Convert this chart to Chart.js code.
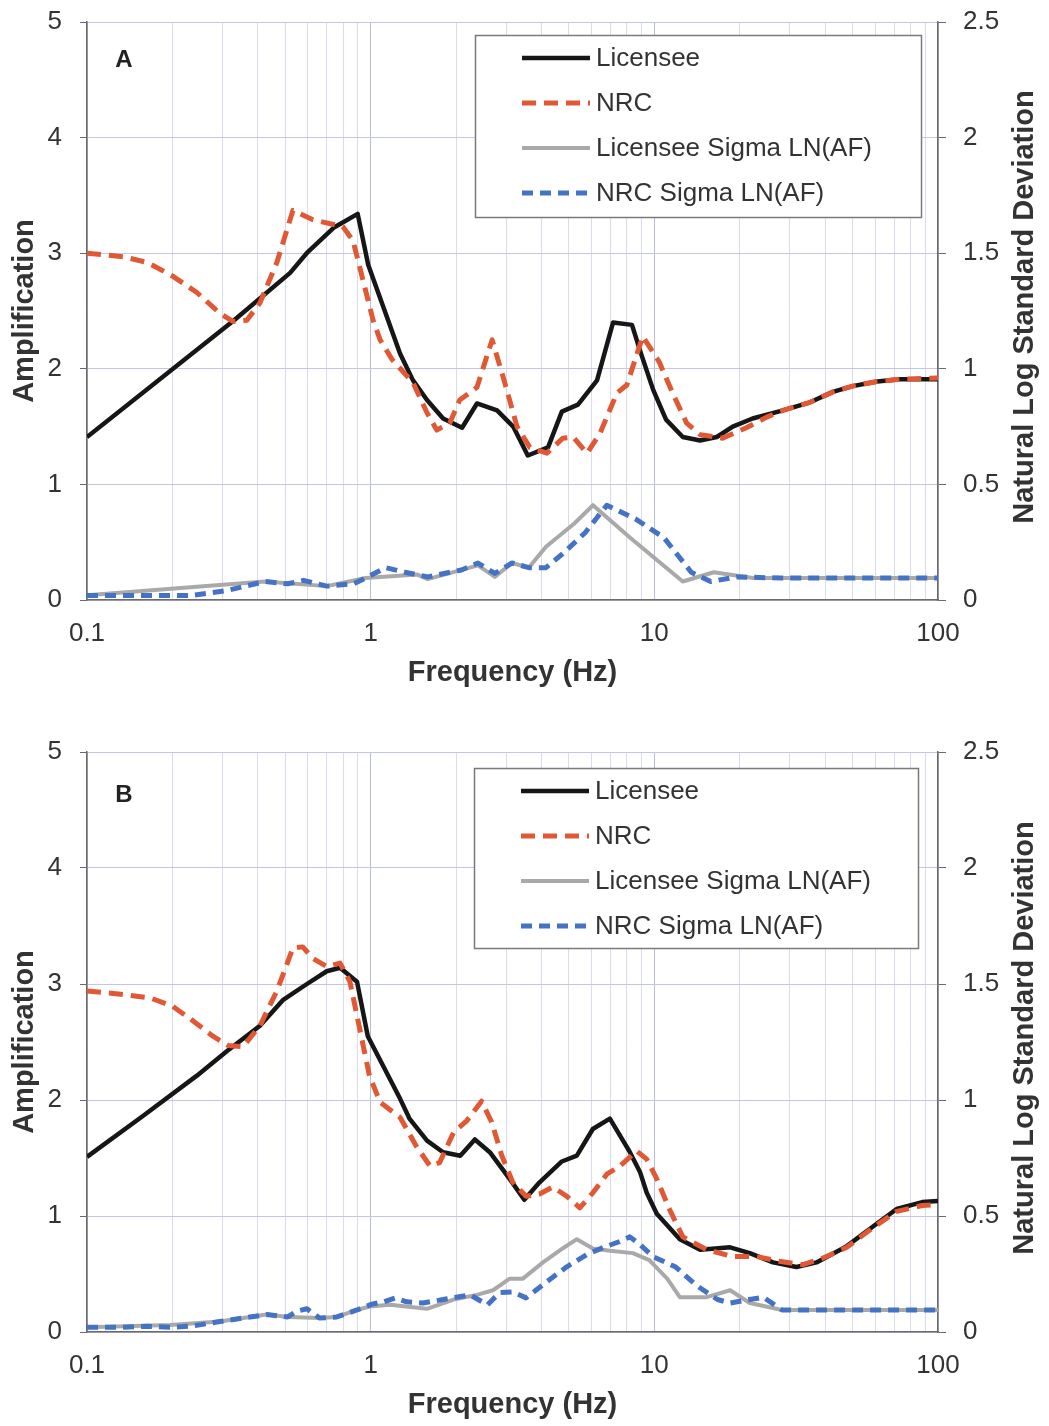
<!DOCTYPE html>
<html>
<head>
<meta charset="utf-8">
<title>Amplification vs Frequency</title>
<script src="https://cdn.jsdelivr.net/npm/chart.js@4/dist/chart.umd.min.js"></script>
<style>
    html, body { margin: 0; padding: 0; background: #fff; overflow: hidden; }
    .panel { position: absolute; left: 0; }
    #panel-a { top: 0; }
    #panel-b { top: 730px; }
</style>
</head>
<body>
<div class="panel" id="panel-a"><canvas id="chart-a" width="1049" height="712"></canvas></div>
<div class="panel" id="panel-b"><canvas id="chart-b" width="1049" height="696"></canvas></div>
<script>
// ---- Data ----
const seriesNames = ['Licensee', 'NRC', 'Licensee Sigma LN(AF)', 'NRC Sigma LN(AF)'];
const decadeTicks = [0.1, 1, 10, 100];

// Panel A
const licenseeA_f = [0.1, 0.33, 0.52, 0.6, 0.74, 0.9, 0.98, 1.27, 1.41, 1.58, 1.8, 2.1, 2.37, 2.79, 3.18, 3.58, 4.22, 4.72, 5.38, 6.28, 7.15, 8.34, 8.9, 9.9, 11.0, 12.6, 14.5, 16.6, 18.9, 22.2, 28.4, 35.4, 42.6, 50, 61, 73.5, 100];
const licenseeA_amp = [1.41, 2.42, 2.83, 3.01, 3.22, 3.34, 2.90, 2.13, 1.90, 1.73, 1.57, 1.49, 1.70, 1.64, 1.50, 1.25, 1.32, 1.63, 1.69, 1.90, 2.40, 2.38, 2.16, 1.82, 1.56, 1.41, 1.38, 1.41, 1.50, 1.57, 1.64, 1.71, 1.80, 1.85, 1.89, 1.91, 1.91];

const nrcA_f = [0.1, 0.134, 0.163, 0.201, 0.244, 0.294, 0.327, 0.366, 0.407, 0.467, 0.532, 0.626, 0.798, 0.866, 0.939, 1.02, 1.08, 1.19, 1.41, 1.58, 1.71, 1.90, 2.06, 2.37, 2.68, 2.93, 3.28, 3.64, 4.18, 4.76, 5.17, 5.79, 6.43, 7.38, 8.0, 9.1, 10.4, 11.6, 13.0, 14.5, 17.4, 21.1, 24.8, 28.4, 35.4, 42.6, 50, 61, 73.5, 100];
const nrcA_amp = [3.00, 2.97, 2.92, 2.80, 2.66, 2.48, 2.41, 2.42, 2.57, 2.92, 3.37, 3.29, 3.23, 3.11, 2.77, 2.42, 2.25, 2.08, 1.88, 1.62, 1.47, 1.53, 1.73, 1.84, 2.25, 1.93, 1.50, 1.32, 1.27, 1.40, 1.41, 1.27, 1.44, 1.79, 1.86, 2.28, 2.06, 1.79, 1.53, 1.43, 1.40, 1.49, 1.58, 1.64, 1.71, 1.80, 1.85, 1.89, 1.91, 1.92];

const licSigmaA_f = [0.1, 0.424, 0.70, 0.96, 1.46, 1.59, 2.39, 2.74, 3.15, 3.61, 4.15, 5.21, 6.08, 8.2, 9.82, 12.6, 16.2, 22.3, 100];
const licSigmaA = [0.02, 0.08, 0.06, 0.095, 0.11, 0.09, 0.15, 0.10, 0.16, 0.14, 0.23, 0.33, 0.41, 0.27, 0.19, 0.08, 0.12, 0.095, 0.095];

const nrcSigmaA_f = [0.1, 0.234, 0.309, 0.424, 0.51, 0.58, 0.70, 0.87, 0.96, 1.13, 1.32, 1.59, 2.09, 2.39, 2.74, 3.15, 3.61, 4.15, 4.75, 5.69, 6.8, 8.6, 10.8, 13.5, 15.8, 19.5, 27.9, 100];
const nrcSigmaA = [0.02, 0.02, 0.04, 0.08, 0.07, 0.085, 0.06, 0.07, 0.095, 0.14, 0.12, 0.10, 0.13, 0.16, 0.115, 0.16, 0.14, 0.14, 0.20, 0.29, 0.41, 0.35, 0.27, 0.12, 0.08, 0.10, 0.095, 0.095];

// Panel B
const licenseeB_f = [0.1, 0.157, 0.244, 0.311, 0.407, 0.49, 0.596, 0.70, 0.78, 0.895, 0.977, 1.27, 1.37, 1.58, 1.80, 2.07, 2.33, 2.63, 3.09, 3.48, 3.94, 4.72, 5.33, 6.07, 6.97, 8.2, 8.9, 9.4, 10.2, 11.1, 12.3, 14.5, 18.5, 21.7, 26.2, 31.7, 37.3, 47.7, 59, 71.5, 88, 100];
const licenseeB_amp = [1.51, 1.86, 2.21, 2.42, 2.64, 2.86, 3.00, 3.11, 3.14, 3.02, 2.55, 2.01, 1.84, 1.65, 1.55, 1.52, 1.66, 1.55, 1.32, 1.14, 1.29, 1.47, 1.52, 1.75, 1.84, 1.55, 1.38, 1.20, 1.02, 0.92, 0.80, 0.71, 0.73, 0.68, 0.60, 0.56, 0.60, 0.74, 0.91, 1.06, 1.12, 1.13];

const nrcB_f = [0.1, 0.134, 0.167, 0.2, 0.231, 0.278, 0.314, 0.355, 0.407, 0.467, 0.532, 0.576, 0.626, 0.70, 0.78, 0.845, 0.91, 0.99, 1.08, 1.27, 1.45, 1.62, 1.75, 1.96, 2.18, 2.46, 2.67, 2.90, 3.17, 3.53, 3.94, 4.38, 4.92, 5.46, 6.07, 6.80, 7.55, 8.67, 9.4, 10.2, 11.3, 12.6, 15.3, 18.9, 23, 27.6, 33.4, 39.5, 47.7, 59, 71.5, 88, 100];
const nrcB_amp = [2.94, 2.91, 2.88, 2.81, 2.70, 2.55, 2.47, 2.46, 2.64, 2.94, 3.31, 3.32, 3.22, 3.15, 3.18, 3.02, 2.64, 2.21, 1.98, 1.85, 1.60, 1.43, 1.46, 1.72, 1.82, 1.99, 1.81, 1.52, 1.29, 1.17, 1.19, 1.25, 1.17, 1.07, 1.20, 1.36, 1.43, 1.56, 1.49, 1.32, 1.06, 0.82, 0.71, 0.65, 0.65, 0.61, 0.58, 0.64, 0.73, 0.90, 1.04, 1.09, 1.10];

const licSigmaB_f = [0.1, 0.196, 0.294, 0.43, 0.51, 0.66, 0.76, 0.895, 0.99, 1.17, 1.58, 1.96, 2.37, 2.70, 3.09, 3.44, 4.05, 4.75, 5.33, 6.07, 6.97, 8.4, 9.6, 11.1, 12.3, 15.3, 18.5, 21.7, 28.2, 100];
const licSigmaB = [0.02, 0.03, 0.045, 0.075, 0.065, 0.06, 0.065, 0.095, 0.11, 0.117, 0.10, 0.14, 0.16, 0.18, 0.23, 0.23, 0.30, 0.36, 0.40, 0.36, 0.35, 0.34, 0.31, 0.23, 0.15, 0.15, 0.18, 0.125, 0.095, 0.095];

const nrcSigmaB_f = [0.1, 0.131, 0.163, 0.196, 0.236, 0.294, 0.355, 0.43, 0.51, 0.55, 0.596, 0.66, 0.76, 0.895, 1.01, 1.11, 1.22, 1.34, 1.53, 1.86, 2.24, 2.58, 2.85, 3.17, 3.53, 4.17, 4.9, 5.76, 6.6, 7.55, 8.2, 8.9, 9.9, 11.9, 14.1, 16.7, 18.5, 24.2, 28.2, 100];
const nrcSigmaB = [0.02, 0.02, 0.025, 0.02, 0.026, 0.045, 0.06, 0.075, 0.065, 0.09, 0.10, 0.06, 0.065, 0.095, 0.12, 0.13, 0.147, 0.13, 0.125, 0.143, 0.16, 0.117, 0.17, 0.173, 0.147, 0.216, 0.28, 0.333, 0.364, 0.39, 0.41, 0.377, 0.325, 0.28, 0.20, 0.14, 0.125, 0.15, 0.095, 0.095];

// ---- Styling ----
const FONT = '"Liberation Sans", Arial, sans-serif';
const TEXT_COLOR = '#333333';
const AXIS_COLOR = '#6b6b6b';

function toPoints(xs, ys) {
    return xs.map((x, i) => ({ x: x, y: ys[i] }));
}

function isDecade(v) {
    const l = Math.log10(v);
    return Math.abs(l - Math.round(l)) < 1e-9;
}

// keep the plot area exactly where the layout padding puts it
function noLabelOverflow(scale) {
    scale.paddingTop = 0;
    scale.paddingBottom = 0;
    scale.paddingLeft = 0;
    scale.paddingRight = 0;
}

// Right axis title, panel letter and the boxed legend
const extrasPlugin = {
    id: 'extras',
    afterDatasetsDraw(chart, args, opts) {
        const ctx = chart.ctx;
        const area = chart.chartArea;
        ctx.save();

        // panel letter
        ctx.fillStyle = '#222';
        ctx.font = 'bold 24px ' + FONT;
        ctx.textAlign = 'center';
        ctx.textBaseline = 'middle';
        ctx.fillText(opts.letter, area.left + 37, area.top + opts.letterDy);

        // legend box
        const lg = opts.legend;
        ctx.fillStyle = '#fff';
        ctx.fillRect(lg.x, lg.y, lg.w, lg.h);
        ctx.strokeStyle = '#7a7a7a';
        ctx.lineWidth = 1.5;
        ctx.strokeRect(lg.x + 0.5, lg.y + 0.5, lg.w, lg.h);

        const legendOrder = [0, 1, 2, 3];
        legendOrder.forEach((idx, row) => {
            const ds = chart.data.datasets[idx];
            const y = lg.y + 23 + row * 45;
            ctx.beginPath();
            ctx.strokeStyle = ds.borderColor;
            ctx.lineWidth = ds.borderWidth;
            ctx.setLineDash(ds.borderDash || []);
            ctx.moveTo(lg.x + 47, y);
            ctx.lineTo(lg.x + 115, y);
            ctx.stroke();
            ctx.setLineDash([]);
            ctx.fillStyle = TEXT_COLOR;
            ctx.font = '26px ' + FONT;
            ctx.textAlign = 'left';
            ctx.textBaseline = 'middle';
            ctx.fillText(ds.label, lg.x + 121, y + 1);
        });
        ctx.restore();
    },
    afterDraw(chart) {
        // secondary axis title, reading bottom to top
        const ctx = chart.ctx;
        const area = chart.chartArea;
        ctx.save();
        ctx.translate(1025, (area.top + area.bottom) / 2 - 4);
        ctx.rotate(-Math.PI / 2);
        ctx.fillStyle = TEXT_COLOR;
        ctx.font = 'bold 29px ' + FONT;
        ctx.textAlign = 'center';
        ctx.textBaseline = 'middle';
        ctx.fillText('Natural Log Standard Deviation', 0, 0);
        ctx.restore();
    }
};

function buildChart(canvasId, letter, series, xAxisHeight, xTitlePad, letterDy, legend) {
    const ctx = document.getElementById(canvasId).getContext('2d');
    const datasets = [
        {
            label: seriesNames[0],
            data: toPoints(series.licF, series.licAmp),
            borderColor: '#161616',
            borderWidth: 4.5,
            yAxisID: 'y',
            order: 1
        },
        {
            label: seriesNames[1],
            data: toPoints(series.nrcF, series.nrcAmp),
            borderColor: '#e15934',
            borderWidth: 5,
            borderDash: [14, 8],
            yAxisID: 'y',
            order: 0
        },
        {
            label: seriesNames[2],
            data: toPoints(series.licSigF, series.licSig),
            borderColor: '#a9a9a9',
            borderWidth: 4,
            yAxisID: 'y2',
            order: 3
        },
        {
            label: seriesNames[3],
            data: toPoints(series.nrcSigF, series.nrcSig),
            borderColor: '#4473c5',
            borderWidth: 5,
            borderDash: [11, 7],
            yAxisID: 'y2',
            order: 2
        }
    ];
    datasets.forEach(ds => {
        ds.pointRadius = 0;
        ds.tension = 0;
        ds.fill = false;
        ds.borderJoinStyle = 'round';
    });

    return new Chart(ctx, {
        type: 'line',
        data: { datasets: datasets },
        plugins: [extrasPlugin],
        options: {
            responsive: false,
            animation: false,
            layout: { padding: { top: 22, left: 0, right: 0, bottom: 0 } },
            plugins: {
                legend: { display: false },
                tooltip: { enabled: false },
                extras: { letter: letter, letterDy: letterDy, legend: legend }
            },
            scales: {
                x: {
                    type: 'logarithmic',
                    min: 0.1,
                    max: 100,
                    afterBuildTicks(scale) {
                        const ticks = [];
                        for (let d = 0; d < decadeTicks.length - 1; d++) {
                            for (let k = 1; k <= 9; k++) {
                                ticks.push({ value: +(decadeTicks[d] * k).toPrecision(6) });
                            }
                        }
                        ticks.push({ value: decadeTicks[decadeTicks.length - 1] });
                        scale.ticks = ticks;
                    },
                    afterFit(scale) {
                        scale.height = xAxisHeight;
                        noLabelOverflow(scale);
                    },
                    ticks: {
                        autoSkip: false,
                        maxRotation: 0,
                        padding: 18,
                        color: TEXT_COLOR,
                        font: { family: FONT, size: 26 },
                        callback: (value) => isDecade(value) ? String(value) : ''
                    },
                    grid: {
                        drawTicks: false,
                        color: (c) => (c.tick && isDecade(c.tick.value)) ? '#b9bcd9' : '#dadcee',
                        lineWidth: 1
                    },
                    border: { color: AXIS_COLOR, width: 1.5 },
                    title: {
                        display: true,
                        text: 'Frequency (Hz)',
                        color: TEXT_COLOR,
                        font: { family: FONT, size: 29, weight: 'bold' },
                        padding: { top: 0, bottom: xTitlePad }
                    }
                },
                y: {
                    position: 'left',
                    min: 0,
                    max: 5,
                    afterFit(scale) {
                        scale.width = 87;
                        noLabelOverflow(scale);
                    },
                    ticks: {
                        stepSize: 1,
                        padding: 18,
                        color: TEXT_COLOR,
                        font: { family: FONT, size: 26 },
                        callback: (value) => String(value)
                    },
                    grid: { color: '#c4c7e4', tickColor: AXIS_COLOR, tickLength: 7, lineWidth: 1 },
                    border: { color: AXIS_COLOR, width: 1.5 },
                    title: {
                        display: true,
                        text: 'Amplification',
                        color: TEXT_COLOR,
                        font: { family: FONT, size: 29, weight: 'bold' },
                        padding: { top: 8, bottom: 0 }
                    }
                },
                y2: {
                    position: 'right',
                    min: 0,
                    max: 2.5,
                    afterFit(scale) {
                        scale.width = 111;
                        noLabelOverflow(scale);
                    },
                    ticks: {
                        stepSize: 0.5,
                        padding: 17,
                        color: TEXT_COLOR,
                        font: { family: FONT, size: 26 },
                        callback: (value) => String(value)
                    },
                    grid: { drawOnChartArea: false, tickColor: AXIS_COLOR, tickLength: 8 },
                    border: { color: AXIS_COLOR, width: 1.5 }
                }
            }
        }
    });
}

buildChart('chart-a', 'A', {
    licF: licenseeA_f, licAmp: licenseeA_amp,
    nrcF: nrcA_f, nrcAmp: nrcA_amp,
    licSigF: licSigmaA_f, licSig: licSigmaA,
    nrcSigF: nrcSigmaA_f, nrcSig: nrcSigmaA
}, 112, 21.6, 38, { x: 475, y: 35, w: 446, h: 182 });

buildChart('chart-b', 'B', {
    licF: licenseeB_f, licAmp: licenseeB_amp,
    nrcF: nrcB_f, nrcAmp: nrcB_amp,
    licSigF: licSigmaB_f, licSig: licSigmaB,
    nrcSigF: nrcSigmaB_f, nrcSig: nrcSigmaB
}, 94, 3.6, 43, { x: 474, y: 38, w: 444, h: 180 });
</script>
</body>
</html>
